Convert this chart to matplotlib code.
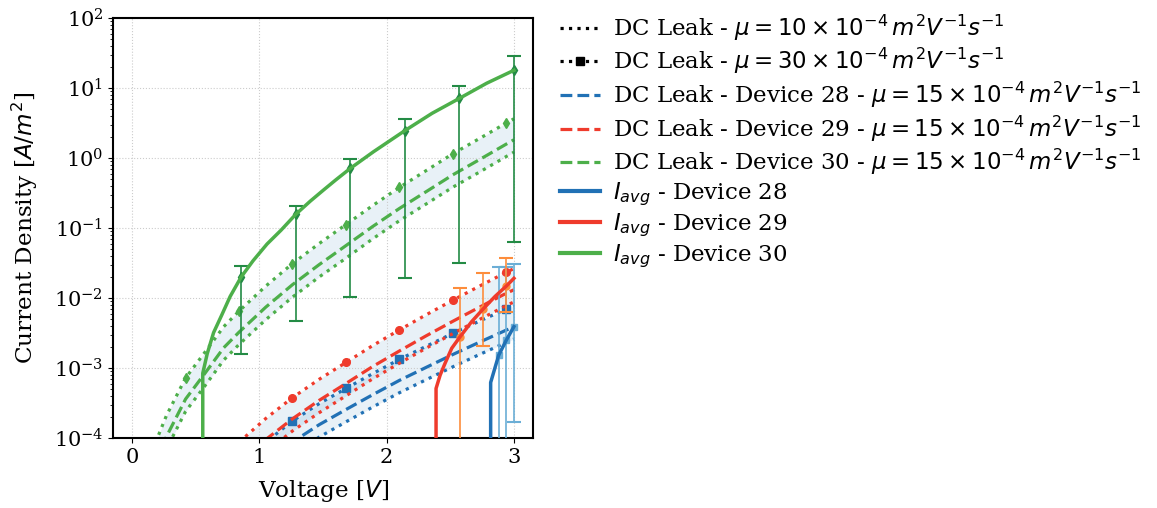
import numpy as np
import matplotlib
matplotlib.use('Agg')
from matplotlib import pyplot as plt

plt.rcParams['font.family'] = 'serif'
plt.rcParams['font.serif'] = ['DejaVu Serif']
plt.rcParams['mathtext.fontset'] = 'dejavusans'

# DC leakage model, device 30 (mu = 10 / 15 / 30 x 1e-4)
v_leak_30 = [0.15, 0.20, 0.27, 0.42, 0.57, 0.72, 0.84, 1.05, 1.26, 1.47, 1.68, 1.89, 2.10, 2.31, 2.52, 2.73, 2.94, 3.00]
j30_mu30 = [5.0e-5, 1.02e-4, 2.1e-4, 7.2e-4, 1.66e-3, 3.9e-3, 6.5e-3, 1.48e-2, 3.1e-2, 6.0e-2, 0.112, 0.209, 0.38, 0.66, 1.15, 1.9, 3.16, 3.63]
j30_mu15 = [2.5e-5, 5.1e-5, 1.05e-4, 3.6e-4, 8.3e-4, 1.95e-3, 3.25e-3, 7.4e-3, 1.55e-2, 3.0e-2, 5.6e-2, 0.105, 0.19, 0.33, 0.575, 0.95, 1.58, 1.82]
j30_mu10 = [1.7e-5, 3.4e-5, 7.0e-5, 2.4e-4, 5.5e-4, 1.3e-3, 2.17e-3, 4.9e-3, 1.03e-2, 2.0e-2, 3.7e-2, 7.0e-2, 0.127, 0.22, 0.383, 0.63, 1.05, 1.21]

# DC leakage model, devices 28 and 29
v_leak = [0.84, 1.05, 1.26, 1.47, 1.68, 1.89, 2.10, 2.31, 2.52, 2.73, 2.94, 3.00]
j29_mu30 = [8.7e-5, 1.9e-4, 3.77e-4, 6.9e-4, 1.2e-3, 2.09e-3, 3.5e-3, 5.75e-3, 9.3e-3, 1.48e-2, 2.33e-2, 2.63e-2]
j29_mu15 = [4.35e-5, 9.5e-5, 1.88e-4, 3.45e-4, 6.0e-4, 1.05e-3, 1.75e-3, 2.88e-3, 4.65e-3, 7.4e-3, 1.17e-2, 1.31e-2]
j29_mu10 = [2.9e-5, 6.3e-5, 1.26e-4, 2.3e-4, 4.0e-4, 7.0e-4, 1.17e-3, 1.92e-3, 3.1e-3, 4.93e-3, 7.8e-3, 8.8e-3]
j28_mu30 = [3.5e-5, 8.7e-5, 1.75e-4, 3.1e-4, 5.1e-4, 8.3e-4, 1.33e-3, 2.04e-3, 3.13e-3, 4.68e-3, 6.97e-3, 7.76e-3]
j28_mu15 = [1.75e-5, 4.35e-5, 8.75e-5, 1.55e-4, 2.55e-4, 4.15e-4, 6.65e-4, 1.02e-3, 1.56e-3, 2.34e-3, 3.48e-3, 3.88e-3]
j28_mu10 = [1.17e-5, 2.9e-5, 5.8e-5, 1.03e-4, 1.7e-4, 2.77e-4, 4.43e-4, 6.8e-4, 1.04e-3, 1.56e-3, 2.32e-3, 2.59e-3]

# voltages where the mu=30 curves carry a marker
v_marks = [0.42, 0.84, 1.26, 1.68, 2.10, 2.52, 2.94]

# measured average current
v_avg_28 = [2.817, 2.817, 2.88, 2.94, 3.0]
j_avg_28 = [1e-6, 6.2e-4, 1.52e-3, 2.5e-3, 3.9e-3]
v_avg_29 = [2.388, 2.388, 2.42, 2.459, 2.511, 2.574, 2.668, 2.759, 2.851, 2.94, 3.0]
j_avg_29 = [1e-6, 5.1e-4, 7.9e-4, 1.17e-3, 1.91e-3, 2.75e-3, 4.6e-3, 7.0e-3, 1.05e-2, 1.48e-2, 1.91e-2]
v_avg_30 = [0.555, 0.555, 0.59, 0.64, 0.704, 0.77, 0.857, 0.95, 1.06, 1.17, 1.286, 1.40, 1.504, 1.60, 1.714, 1.897, 2.143, 2.357, 2.571, 2.786, 3.0]
j_avg_30 = [1e-6, 8.4e-4, 1.6e-3, 3.2e-3, 5.7e-3, 0.0105, 0.02, 0.034, 0.059, 0.093, 0.157, 0.242, 0.349, 0.486, 0.71, 1.23, 2.46, 4.35, 7.1, 11.7, 17.9]

# error bars (centre, min, max)
v_err_28 = [2.88, 2.94, 3.0]
j_err_28 = [1.52e-3, 2.5e-3, 3.9e-3]
lo_err_28 = [3e-5, 3e-5, 1.7e-4]
hi_err_28 = [0.028, 0.0275, 0.031]
v_err_29 = [2.574, 2.759, 2.94]
j_err_29 = [2.75e-3, 7.0e-3, 1.48e-2]
lo_err_29 = [3e-5, 2.06e-3, 6.4e-3]
hi_err_29 = [0.0138, 0.0225, 0.0377]
v_err_30 = [0.857, 1.286, 1.714, 2.143, 2.571, 3.0]
j_err_30 = [0.02, 0.157, 0.71, 2.46, 7.1, 17.9]
lo_err_30 = [0.0016, 0.0047, 0.0102, 0.0195, 0.032, 0.0625]
hi_err_30 = [0.029, 0.206, 0.97, 3.6, 10.8, 28.7]

devices = [28, 29, 30]
colors = {28: '#2171b5', 29: '#ef3b2c', 30: '#4daf4a'}
err_colors = {28: '#6baed6', 29: '#fd8d3c', 30: '#238b45'}
markers = {28: 's', 29: 'o', 30: 'd'}

leak = {
    28: (v_leak, j28_mu10, j28_mu15, j28_mu30),
    29: (v_leak, j29_mu10, j29_mu15, j29_mu30),
    30: (v_leak_30, j30_mu10, j30_mu15, j30_mu30),
}
avg = {28: (v_avg_28, j_avg_28), 29: (v_avg_29, j_avg_29), 30: (v_avg_30, j_avg_30)}
errs = {
    28: (v_err_28, j_err_28, lo_err_28, hi_err_28),
    29: (v_err_29, j_err_29, lo_err_29, hi_err_29),
    30: (v_err_30, j_err_30, lo_err_30, hi_err_30),
}

fig = plt.figure(figsize=(11.57, 5.08), dpi=100)
ax = fig.add_axes([0.0977, 0.1378, 0.363, 0.8268])

lw = 2.3
for d in devices:
    v, j10, j15, j30 = leak[d]
    c = colors[d]
    ax.fill_between(v, j10, j30, color='tab:blue', alpha=0.1, lw=0, zorder=1)
    ax.plot(v, j10, ':', color=c, lw=lw, zorder=2)
    every = [i for i, x in enumerate(v) if np.any(np.isclose(x, v_marks))]
    ax.plot(v, j30, ':', color=c, lw=lw, marker=markers[d], ms=5.5, markevery=every, zorder=2)
    ax.plot(v, j15, '--', color=c, lw=lw, zorder=2)

for d in devices:
    ve, je, lo, hi = errs[d]
    je = np.array(je)
    yerr = [je - np.array(lo), np.array(hi) - je]
    ax.errorbar(ve, je, yerr=yerr, fmt=markers[d], ms=5, color=err_colors[d],
                elinewidth=1.2, capsize=5, capthick=1.5, zorder=3)
    va, ja = avg[d]
    ax.plot(va, ja, '-', color=colors[d], lw=2.5, zorder=4)

# legend handles
handles = []
handles += ax.plot([], [], ':', color='k', lw=lw)
handles += ax.plot([], [], ':', color='k', lw=lw, marker='s', ms=5.5)
for d in devices:
    handles += ax.plot([], [], '--', color=colors[d], lw=lw)
for d in devices:
    handles += ax.plot([], [], '-', color=colors[d], lw=3)
labels = [r'DC Leak - $\mu = 10\times10^{-4}\,m^2V^{-1}s^{-1}$',
          r'DC Leak - $\mu = 30\times10^{-4}\,m^2V^{-1}s^{-1}$']
labels += [r'DC Leak - Device %d - $\mu = 15\times10^{-4}\,m^2V^{-1}s^{-1}$' % d for d in devices]
labels += [r'$I_{avg}$ - Device %d' % d for d in devices]
ax.legend(handles, labels, loc='upper left', bbox_to_anchor=(1.014, 1.062),
          frameon=False, fontsize=16.5, labelspacing=0.15,
          handlelength=1.75, handletextpad=0.6)

ax.set_yscale('log')
ax.set_ylim(1e-4, 1e2)
ax.set_xlim(-0.15, 3.15)
ax.set_xticks([0, 1, 2, 3])
ax.set_yticks([1e-4, 1e-3, 1e-2, 1e-1, 1e0, 1e1, 1e2])
ax.grid(True, which='major', ls=':', color='#cccccc', lw=0.8)
ax.tick_params(labelsize=15)
for s in ax.spines.values():
    s.set_linewidth(1.5)
ax.set_xlabel('Voltage [$V$]', fontsize=16.7, labelpad=8)
ax.set_ylabel('Current Density [$A/m^2$]', fontsize=16.7, labelpad=10)

fig.savefig('out.png', dpi=100)
